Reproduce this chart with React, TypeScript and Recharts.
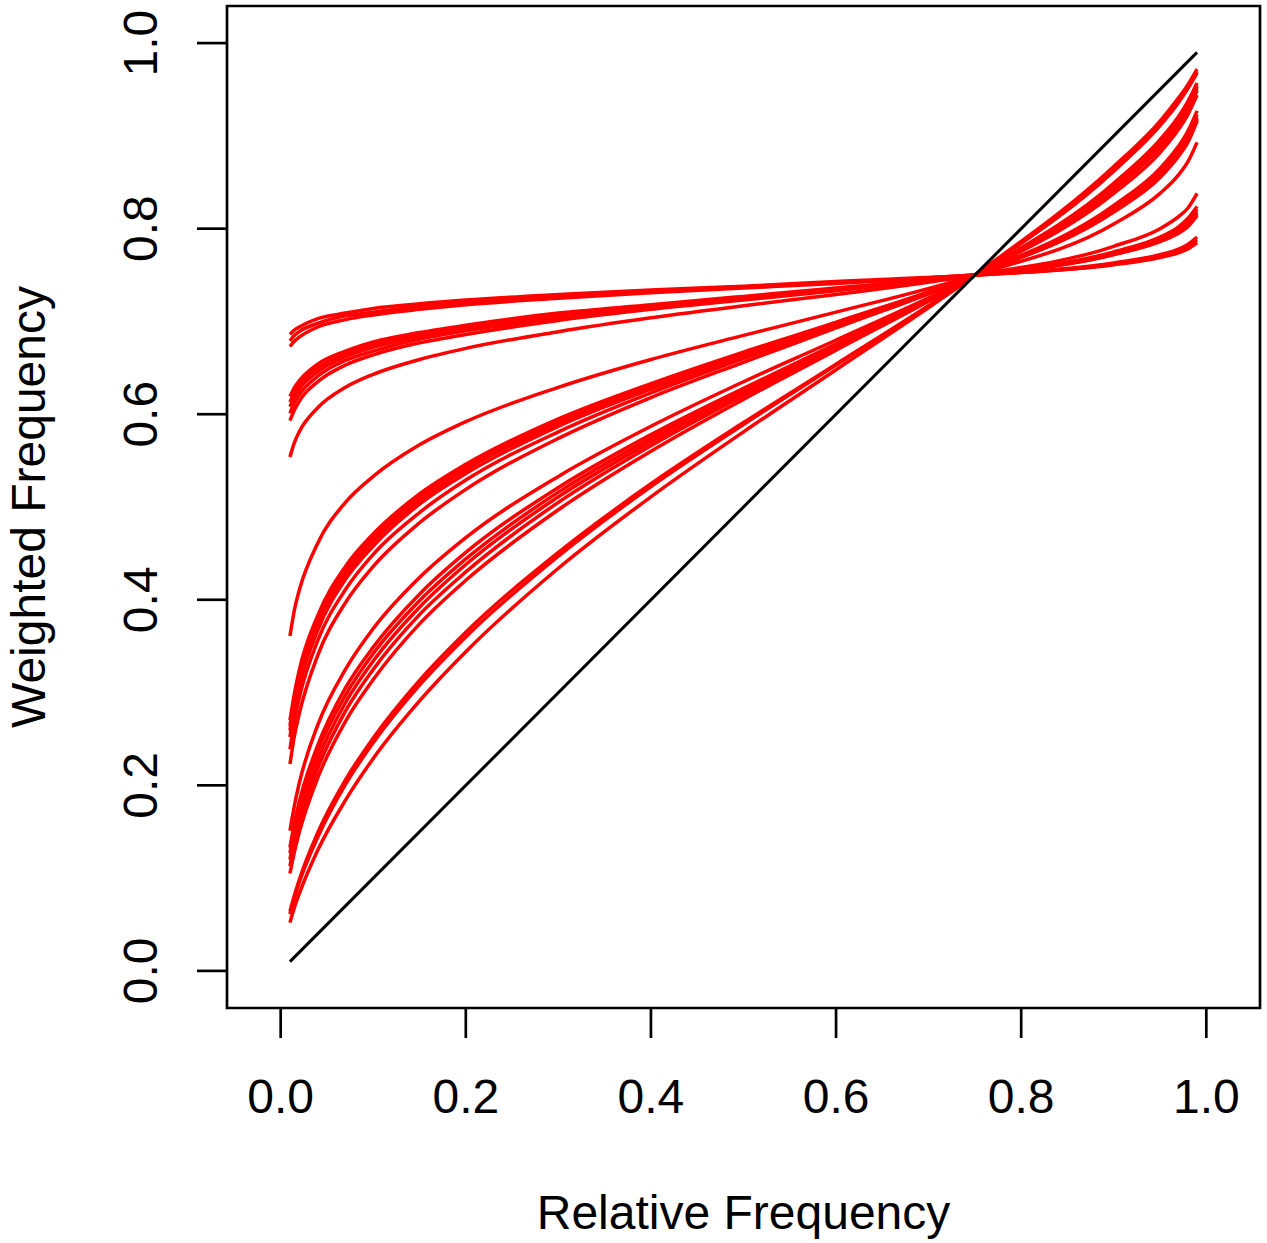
import React from 'react';
import { LineChart, Line, XAxis, YAxis, ReferenceArea } from 'recharts';

// relative frequency grid the curves were read at
const relFreq = [0.01, 0.015, 0.02, 0.04, 0.07, 0.1, 0.15, 0.2, 0.3, 0.4, 0.5, 0.6, 0.75, 0.9, 0.95, 0.97, 0.98, 0.99];

// flat top bundle
const curveA1 = [0.686, 0.691, 0.694, 0.703, 0.709, 0.714, 0.719, 0.723, 0.729, 0.734, 0.738, 0.743, 0.75, 0.761, 0.769, 0.774, 0.778, 0.785];
const curveA2 = [0.679, 0.685, 0.689, 0.698, 0.706, 0.710, 0.716, 0.721, 0.727, 0.732, 0.737, 0.742, 0.75, 0.762, 0.771, 0.776, 0.781, 0.788];
const curveA3 = [0.673, 0.679, 0.683, 0.694, 0.702, 0.707, 0.713, 0.718, 0.725, 0.731, 0.736, 0.741, 0.75, 0.763, 0.772, 0.778, 0.783, 0.791];

// second bundle (~0.6 at the left edge)
const curveB1 = [0.619, 0.629, 0.636, 0.654, 0.668, 0.678, 0.688, 0.696, 0.709, 0.718, 0.727, 0.736, 0.75, 0.772, 0.786, 0.795, 0.802, 0.814];
const curveB2 = [0.613, 0.624, 0.632, 0.650, 0.665, 0.675, 0.686, 0.694, 0.707, 0.717, 0.726, 0.735, 0.75, 0.772, 0.787, 0.797, 0.804, 0.816];
const curveB3 = [0.608, 0.619, 0.627, 0.646, 0.662, 0.672, 0.684, 0.692, 0.705, 0.716, 0.725, 0.735, 0.75, 0.773, 0.788, 0.798, 0.806, 0.818];
const curveB4 = [0.601, 0.613, 0.621, 0.641, 0.658, 0.668, 0.681, 0.690, 0.703, 0.714, 0.724, 0.734, 0.75, 0.774, 0.790, 0.800, 0.808, 0.821];
const curveB5 = [0.593, 0.605, 0.614, 0.635, 0.653, 0.664, 0.677, 0.686, 0.701, 0.713, 0.723, 0.733, 0.75, 0.775, 0.791, 0.802, 0.811, 0.824];
const curveB6 = [0.554, 0.570, 0.581, 0.607, 0.629, 0.643, 0.659, 0.671, 0.689, 0.704, 0.717, 0.729, 0.75, 0.781, 0.800, 0.813, 0.822, 0.838];

// lone middle curve
const curveC1 = [0.361, 0.390, 0.410, 0.461, 0.505, 0.533, 0.567, 0.592, 0.629, 0.659, 0.685, 0.710, 0.75, 0.805, 0.838, 0.858, 0.872, 0.893];

// thick bundle starting ~0.25
const curveD1 = [0.270, 0.300, 0.324, 0.383, 0.436, 0.471, 0.514, 0.546, 0.595, 0.633, 0.667, 0.699, 0.75, 0.818, 0.855, 0.878, 0.893, 0.916];
const curveD2 = [0.264, 0.295, 0.318, 0.378, 0.432, 0.467, 0.511, 0.543, 0.592, 0.631, 0.666, 0.699, 0.75, 0.819, 0.857, 0.879, 0.895, 0.917];
const curveD3 = [0.259, 0.289, 0.313, 0.373, 0.427, 0.463, 0.507, 0.540, 0.590, 0.630, 0.665, 0.698, 0.75, 0.820, 0.858, 0.881, 0.896, 0.918];
const curveD4 = [0.252, 0.283, 0.306, 0.367, 0.422, 0.458, 0.503, 0.536, 0.587, 0.627, 0.663, 0.697, 0.75, 0.821, 0.859, 0.882, 0.898, 0.920];
const curveD5 = [0.239, 0.270, 0.294, 0.356, 0.411, 0.449, 0.494, 0.529, 0.581, 0.623, 0.660, 0.695, 0.75, 0.823, 0.862, 0.885, 0.901, 0.923];
const curveD6 = [0.223, 0.254, 0.277, 0.340, 0.397, 0.436, 0.483, 0.519, 0.574, 0.618, 0.656, 0.693, 0.75, 0.825, 0.865, 0.889, 0.905, 0.927];

// bundle starting ~0.12
const curveE1 = [0.151, 0.179, 0.202, 0.265, 0.325, 0.369, 0.424, 0.467, 0.533, 0.587, 0.635, 0.680, 0.75, 0.838, 0.882, 0.907, 0.923, 0.944];
const curveE2 = [0.133, 0.160, 0.182, 0.243, 0.305, 0.349, 0.406, 0.451, 0.521, 0.578, 0.628, 0.676, 0.75, 0.842, 0.887, 0.912, 0.928, 0.949];
const curveE3 = [0.127, 0.153, 0.174, 0.236, 0.297, 0.342, 0.399, 0.444, 0.516, 0.574, 0.626, 0.675, 0.75, 0.843, 0.889, 0.914, 0.930, 0.951];
const curveE4 = [0.120, 0.146, 0.166, 0.227, 0.289, 0.334, 0.392, 0.438, 0.511, 0.570, 0.623, 0.673, 0.75, 0.845, 0.891, 0.916, 0.932, 0.953];
const curveE5 = [0.113, 0.138, 0.158, 0.218, 0.280, 0.325, 0.384, 0.430, 0.505, 0.566, 0.620, 0.671, 0.75, 0.847, 0.893, 0.918, 0.934, 0.954];
const curveE6 = [0.105, 0.129, 0.149, 0.208, 0.269, 0.314, 0.374, 0.421, 0.497, 0.560, 0.616, 0.669, 0.75, 0.849, 0.896, 0.921, 0.937, 0.957];

// steepest bundle, closest to the diagonal
const curveF1 = [0.064, 0.082, 0.098, 0.149, 0.206, 0.251, 0.313, 0.365, 0.451, 0.525, 0.591, 0.654, 0.75, 0.862, 0.911, 0.936, 0.951, 0.968];
const curveF2 = [0.061, 0.079, 0.095, 0.144, 0.201, 0.246, 0.308, 0.360, 0.447, 0.522, 0.589, 0.653, 0.75, 0.863, 0.912, 0.937, 0.952, 0.969];
const curveF3 = [0.052, 0.069, 0.083, 0.130, 0.184, 0.229, 0.291, 0.344, 0.434, 0.511, 0.581, 0.648, 0.75, 0.867, 0.916, 0.941, 0.955, 0.972];

// black identity line, only its two ends
const diagonalEnds = [0.01, 0.99];

const xTickValues = [0, 0.2, 0.4, 0.6, 0.8, 1.0];
const yTickValues = [0, 0.2, 0.4, 0.6, 0.8, 1.0];

const redCurves = [
  curveA1, curveA2, curveA3,
  curveB1, curveB2, curveB3, curveB4, curveB5, curveB6,
  curveC1,
  curveD1, curveD2, curveD3, curveD4, curveD5, curveD6,
  curveE1, curveE2, curveE3, curveE4, curveE5, curveE6,
  curveF1, curveF2, curveF3,
];

const chartData = relFreq.map((x, i) => {
  const row: Record<string, number | null> = { x };
  redCurves.forEach((curve, k) => {
    row[`c${k}`] = curve[i];
  });
  row.diag = i === 0 ? diagonalEnds[0] : i === relFreq.length - 1 ? diagonalEnds[1] : null;
  return row;
});

const FONT = '"Liberation Sans", Arial, Helvetica, sans-serif';

const XTick = (props: any) => {
  const { x, y, payload } = props;
  return (
    <text x={x} y={y} textAnchor="middle" fontSize={48} fontFamily={FONT} fill="#000">
      {Number(payload.value).toFixed(1)}
    </text>
  );
};

const YTick = (props: any) => {
  const { x, y, payload } = props;
  return (
    <text
      x={x}
      y={y}
      transform={`rotate(-90 ${x} ${y})`}
      textAnchor="middle"
      fontSize={48}
      fontFamily={FONT}
      fill="#000"
    >
      {Number(payload.value).toFixed(1)}
    </text>
  );
};

export default function App() {
  return (
    <div style={{ position: 'absolute', left: 0, top: 0, background: '#fff' }}>
      <LineChart
        width={1267}
        height={1243}
        data={chartData}
        margin={{ top: 6, right: 7, bottom: 0, left: 0 }}
      >
        <XAxis
          dataKey="x"
          type="number"
          domain={[-0.058, 1.058]}
          ticks={xTickValues}
          allowDataOverflow
          height={235}
          axisLine={false}
          tickSize={30}
          tickMargin={75}
          tickLine={{ stroke: '#000', strokeWidth: 2.7 }}
          tick={XTick}
          interval={0}
          label={{
            value: 'Relative Frequency',
            position: 'insideBottom',
            offset: 14,
            style: { fontSize: 48, fontFamily: FONT, fill: '#000' },
          }}
        />
        <YAxis
          type="number"
          domain={[-0.04, 1.04]}
          ticks={yTickValues}
          allowDataOverflow
          width={227}
          axisLine={false}
          tickSize={30}
          tickMargin={40}
          tickLine={{ stroke: '#000', strokeWidth: 2.7 }}
          tick={YTick}
          interval={0}
          label={{
            value: 'Weighted Frequency',
            angle: -90,
            position: 'insideLeft',
            offset: 28,
            style: { textAnchor: 'middle', fontSize: 48, fontFamily: FONT, fill: '#000' },
          }}
        />
        <ReferenceArea
          x1={-0.058}
          x2={1.058}
          y1={-0.04}
          y2={1.04}
          fill="none"
          stroke="#000"
          strokeWidth={2.7}
          ifOverflow="visible"
        />
        {redCurves.map((_, k) => (
          <Line
            key={k}
            dataKey={`c${k}`}
            type="monotone"
            stroke="#ff0000"
            strokeWidth={3.5}
            dot={false}
            activeDot={false}
            isAnimationActive={false}
          />
        ))}
        <Line
          dataKey="diag"
          type="linear"
          stroke="#000"
          strokeWidth={3}
          connectNulls
          dot={false}
          activeDot={false}
          isAnimationActive={false}
        />
      </LineChart>
    </div>
  );
}
